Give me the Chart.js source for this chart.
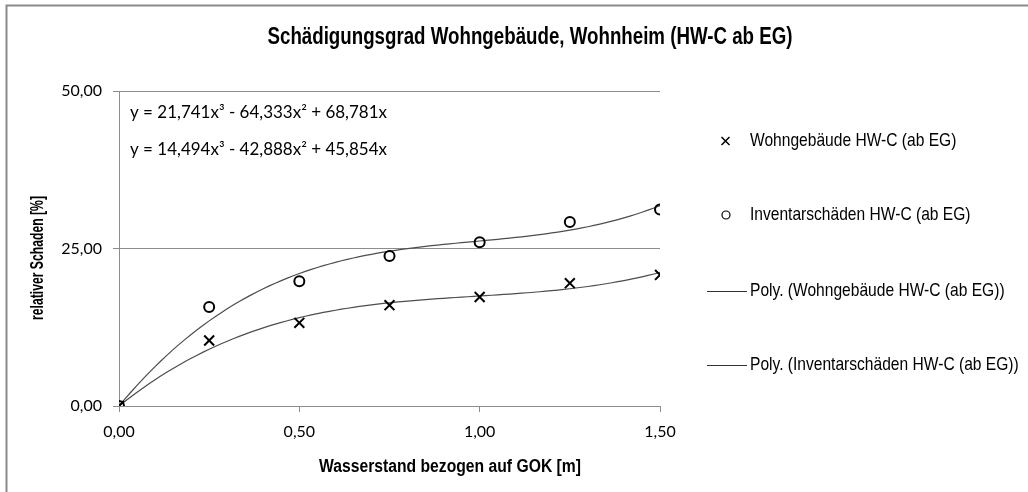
<!DOCTYPE html>
<html>
<head>
<meta charset="utf-8">
<script src="https://cdn.jsdelivr.net/npm/chart.js@4.4.1/dist/chart.umd.min.js"></script>
<style>
  html, body { margin: 0; padding: 0; background: #ffffff; }
  #wrap { width: 1028px; height: 492px; position: relative; }
</style>
</head>
<body>
<div id="wrap"><canvas id="c" width="1028" height="492"></canvas></div>
<script>
// Water level above ground (m) and measured relative damage (%)
const waterLevels = [0, 0.25, 0.5, 0.75, 1.0, 1.25, 1.5];
const buildingDamage = [0, 10.4, 13.2, 16.0, 17.3, 19.5, 20.8];
const contentsDamage = [0, 15.7, 19.8, 23.8, 26.0, 29.2, 31.2];

// Cubic trendline coefficients [x^3, x^2, x] as printed in the chart
const contentsTrendCoef = [21.741, -64.333, 68.781];
const buildingTrendCoef = [14.494, -42.888, 45.854];

const trendEquations = [
  'y = 21,741x³ - 64,333x² + 68,781x',
  'y = 14,494x³ - 42,888x² + 45,854x'
];

const seriesNames = [
  'Wohngebäude HW-C (ab EG)',
  'Inventarschäden HW-C (ab EG)',
  'Poly. (Wohngebäude HW-C (ab EG))',
  'Poly. (Inventarschäden HW-C (ab EG))'
];

const chartTitle = 'Schädigungsgrad Wohngebäude, Wohnheim (HW-C ab EG)';
const xAxisTitle = 'Wasserstand bezogen auf GOK [m]';
const yAxisTitle = 'relativer Schaden [%]';

const yTicks = [0, 25, 50];
const xTicks = [0, 0.5, 1.0, 1.5];

function poly(coef, x) {
  return coef[0] * x * x * x + coef[1] * x * x + coef[2] * x;
}
function trendPoints(coef) {
  const pts = [];
  const n = 90;
  for (let i = 0; i <= n; i++) {
    const x = 1.5 * i / n;
    pts.push({ x: x, y: poly(coef, x) });
  }
  return pts;
}

const fmt = v => v.toFixed(2).replace('.', ',');

const SANS = '"Liberation Sans", Arial, sans-serif';
const TICKFONT = 'Lato, "Open Sans", sans-serif';

// Draws text squeezed horizontally so it spans the given width
function fittedText(ctx, text, cx, cy, font, width, align) {
  ctx.save();
  ctx.font = font;
  const w = ctx.measureText(text).width;
  const k = width / w;
  ctx.translate(cx, cy);
  ctx.scale(k, 1);
  ctx.textAlign = align || 'center';
  ctx.textBaseline = 'middle';
  ctx.fillText(text, 0, 0);
  ctx.restore();
}

// Narrow text: regular sans with a fixed horizontal squeeze
function narrowText(ctx, text, x, y, font, squeeze) {
  ctx.save();
  ctx.font = font;
  ctx.translate(x, y);
  ctx.scale(squeeze, 1);
  ctx.textAlign = 'left';
  ctx.textBaseline = 'middle';
  ctx.fillText(text, 0, 0);
  ctx.restore();
}

// Titles, equations, legend and outer frame
const decorations = {
  id: 'decorations',
  afterDraw(chart) {
    const ctx = chart.ctx;
    ctx.save();

    // frame
    ctx.strokeStyle = '#8a8a8a';
    ctx.lineWidth = 2;
    ctx.beginPath();
    ctx.moveTo(6.5, 492);
    ctx.lineTo(6.5, 5.5);
    ctx.lineTo(1028, 5.5);
    ctx.stroke();

    ctx.fillStyle = '#000';

    // chart title
    fittedText(ctx, chartTitle, 530, 38, 'bold 23px ' + SANS, 525);

    // axis titles
    fittedText(ctx, xAxisTitle, 450, 467, 'bold 18px ' + SANS, 262);
    ctx.save();
    ctx.translate(38, 258);
    ctx.rotate(-Math.PI / 2);
    fittedText(ctx, yAxisTitle, 0, 0, 'bold 18px ' + SANS, 124);
    ctx.restore();

    // trendline equations
    fittedText(ctx, trendEquations[0], 130, 113, '17px ' + TICKFONT, 257, 'left');
    fittedText(ctx, trendEquations[1], 130, 150, '17px ' + TICKFONT, 257, 'left');

    // legend
    const ys = [141, 215, 291, 365];
    chart.data.datasets.forEach((ds, i) => {
      const y = ys[i];
      ctx.strokeStyle = '#000';
      if (i === 0) {
        ctx.lineWidth = 1.5;
        ctx.beginPath();
        ctx.moveTo(721.5, y - 4); ctx.lineTo(729.5, y + 4);
        ctx.moveTo(729.5, y - 4); ctx.lineTo(721.5, y + 4);
        ctx.stroke();
      } else if (i === 1) {
        ctx.lineWidth = 1.2;
        ctx.beginPath();
        ctx.arc(726, y, 4, 0, Math.PI * 2);
        ctx.stroke();
      } else {
        ctx.strokeStyle = '#333';
        ctx.lineWidth = 1;
        ctx.beginPath();
        ctx.moveTo(707, y + 0.5); ctx.lineTo(747, y + 0.5);
        ctx.stroke();
      }
      ctx.fillStyle = '#000';
      narrowText(ctx, ds.label, 750, y, '19px ' + SANS, 0.82);
    });
    ctx.restore();
  }
};

const toPts = arr => waterLevels.map((x, i) => ({ x: x, y: arr[i] }));

new Chart(document.getElementById('c'), {
  type: 'scatter',
  data: {
    datasets: [
      {
        label: seriesNames[0],
        data: toPts(buildingDamage),
        pointStyle: 'crossRot',
        pointRadius: 7,
        pointBorderWidth: 2,
        borderColor: '#000',
        backgroundColor: '#000',
        showLine: false,
        order: 0
      },
      {
        label: seriesNames[1],
        data: toPts(contentsDamage),
        pointStyle: 'circle',
        pointRadius: 5,
        pointBorderWidth: 2,
        borderColor: '#000',
        backgroundColor: 'rgba(0,0,0,0)',
        showLine: false,
        order: 0
      },
      {
        label: seriesNames[2],
        data: trendPoints(buildingTrendCoef),
        showLine: true,
        pointRadius: 0,
        borderColor: '#4d4d4d',
        borderWidth: 1.2,
        tension: 0,
        order: 1
      },
      {
        label: seriesNames[3],
        data: trendPoints(contentsTrendCoef),
        showLine: true,
        pointRadius: 0,
        borderColor: '#4d4d4d',
        borderWidth: 1.2,
        tension: 0,
        order: 1
      }
    ]
  },
  options: {
    responsive: false,
    animation: false,
    layout: { padding: { left: 30, top: 91, right: 368, bottom: 0 } },
    plugins: {
      legend: { display: false },
      title: { display: false },
      tooltip: { enabled: false }
    },
    scales: {
      x: {
        type: 'linear',
        min: 0,
        max: 1.5,
        afterBuildTicks: s => { s.ticks = xTicks.map(v => ({ value: v })); },
        afterFit: s => { s.height = 86; },
        grid: {
          drawOnChartArea: false,
          drawTicks: true,
          tickLength: 6,
          color: '#8c8c8c'
        },
        border: { color: '#8c8c8c', width: 1 },
        ticks: {
          callback: v => fmt(v),
          color: '#000',
          padding: 10,
          maxRotation: 0,
          font: { family: TICKFONT, size: 16 }
        }
      },
      y: {
        type: 'linear',
        min: 0,
        max: 50,
        afterBuildTicks: s => { s.ticks = yTicks.map(v => ({ value: v })); },
        afterFit: s => { s.width = 89; },
        grid: {
          drawTicks: true,
          tickLength: 6,
          color: '#8c8c8c'
        },
        border: { color: '#8c8c8c', width: 1 },
        ticks: {
          callback: v => fmt(v),
          color: '#000',
          padding: 11,
          font: { family: TICKFONT, size: 16 }
        }
      }
    }
  },
  plugins: [decorations]
});
</script>
</body>
</html>
